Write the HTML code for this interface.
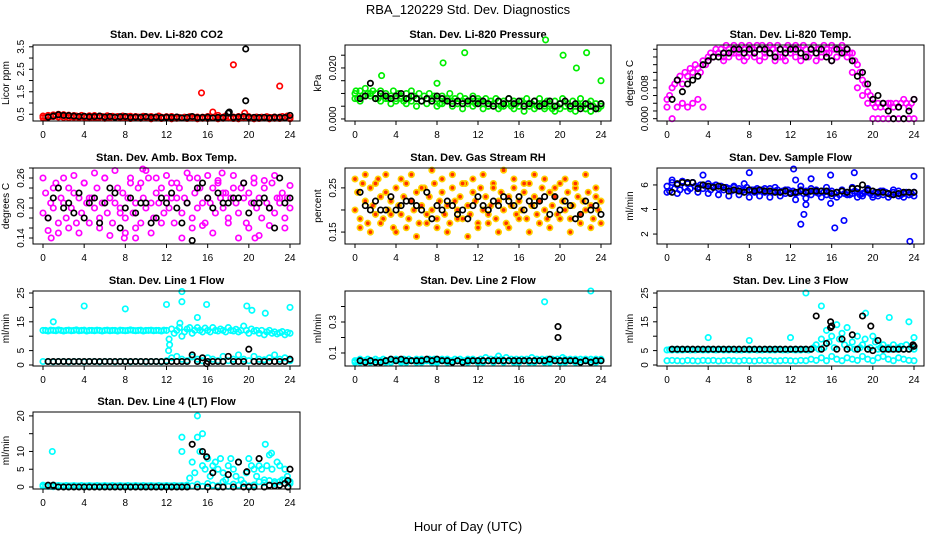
<!DOCTYPE html>
<html><head><meta charset="utf-8">
<style>
html,body{margin:0;padding:0;background:#fff;}
svg{display:block;font-family:"Liberation Sans",Arial,sans-serif;}
</style></head>
<body>
<svg id="chart" width="936" height="540" viewBox="0 0 936 540" xmlns="http://www.w3.org/2000/svg">
<rect width="936" height="540" fill="#fff"/>
<text x="468" y="14" font-size="13" text-anchor="middle">RBA_120229  Std. Dev. Diagnostics</text>
<text x="468" y="531" font-size="13" text-anchor="middle">Hour of Day (UTC)</text>
<g id="panels"></g>
</svg>
<script>
// ---- data (colored series A at 0..24 evenly, series B at 0..24 evenly, black at 0.5..23.75 evenly) ----
const co2A=[0.42,0.38,0.45,0.40,0.47,0.43,0.50,0.44,0.48,0.41,0.46,0.39,0.44,0.42,0.40,0.45,0.41,0.38,0.43,0.40,0.44,0.37,0.42,0.40,0.38,0.43,0.39,0.41,0.36,0.40,0.38,0.42,0.37,0.39,0.41,0.36,0.40,0.38,0.35,0.41,0.39,0.37,0.40,0.36,0.38,0.42,0.37,0.35,0.39,0.36,0.40,0.34,0.38,0.36,0.33,0.37,0.35,0.39,0.34,0.36,0.38,0.33,0.37,0.35,0.40,0.34,0.36,0.38,0.45,0.35,0.37,0.42,0.36,0.34,0.38,0.35,0.40,0.36,0.33,0.37,0.39,0.34,0.36,0.38,0.35,0.37,0.34,0.39,0.36,0.35,0.38,0.34,0.37,0.40,0.36,0.42,0.35];
const co2B=[0.34,0.36,0.40,0.38,0.36,0.35,0.37,0.34,0.36,0.33,0.35,0.37,0.32,0.34,0.36,0.33,0.35,0.31,0.34,0.32,0.36,0.30,0.33,0.31,0.35,0.30,0.32,0.34,0.31,0.33,0.30,0.32,0.31,0.34,0.30,0.32,0.33,0.31,0.30,0.34,0.32,0.30,0.31,0.33,0.30,0.32,0.31,0.33,0.30];
const co2K=[0.38,0.42,0.48,0.45,0.44,0.42,0.40,0.41,0.39,0.40,0.42,0.38,0.40,0.37,0.39,0.40,0.36,0.38,0.37,0.39,0.36,0.38,0.35,0.37,0.36,0.38,0.34,0.36,0.40,0.35,0.36,0.37,0.34,0.36,0.35,0.55,0.36,0.38,0.40,0.37,0.36,0.35,0.36,0.34,0.37,0.36,0.35,0.45];
const co2Out=[[15.4,1.45,"c"],[16.5,0.6,"c"],[18.5,2.7,"c"],[23,1.75,"c"],[19.7,3.4,"k"],[19.7,1.1,"k"],[18.1,0.6,"k"],[19.6,0.55,"c"]];

const presA=[0.010,0.008,0.011,0.009,0.012,0.010,0.009,0.011,0.010,0.008,0.011,0.009,0.010,0.008,0.009,0.011,0.008,0.010,0.009,0.007,0.010,0.008,0.011,0.009,0.008,0.010,0.007,0.009,0.008,0.010,0.007,0.009,0.008,0.006,0.009,0.007,0.008,0.010,0.007,0.008,0.006,0.009,0.007,0.008,0.006,0.007,0.009,0.006,0.008,0.007,0.006,0.008,0.005,0.007,0.006,0.008,0.007,0.005,0.007,0.006,0.008,0.005,0.007,0.006,0.005,0.007,0.006,0.008,0.005,0.006,0.007,0.005,0.008,0.006,0.005,0.007,0.006,0.004,0.007,0.005,0.006,0.008,0.005,0.006,0.004,0.007,0.005,0.006,0.008,0.005,0.004,0.006,0.007,0.005,0.006,0.004,0.006];
const presB=[0.008,0.007,0.009,0.010,0.008,0.007,0.008,0.006,0.007,0.008,0.006,0.007,0.005,0.007,0.006,0.008,0.005,0.006,0.007,0.005,0.006,0.004,0.006,0.005,0.007,0.004,0.005,0.006,0.004,0.005,0.006,0.004,0.005,0.003,0.005,0.004,0.006,0.004,0.005,0.003,0.004,0.005,0.004,0.003,0.005,0.004,0.003,0.004,0.005];
const presK=[0.008,0.009,0.014,0.008,0.010,0.009,0.008,0.009,0.010,0.008,0.009,0.008,0.007,0.008,0.007,0.009,0.008,0.007,0.006,0.007,0.006,0.007,0.008,0.006,0.007,0.006,0.005,0.007,0.006,0.008,0.006,0.007,0.005,0.006,0.007,0.005,0.006,0.007,0.005,0.006,0.007,0.005,0.006,0.004,0.006,0.005,0.004,0.006];
const presOut=[[0.1,0.011,"c"],[2.6,0.017,"c"],[8,0.014,"c"],[8.6,0.022,"c"],[10.7,0.026,"c"],[18.6,0.031,"c"],[20.3,0.025,"c"],[21.6,0.020,"c"],[22.6,0.026,"c"],[24,0.015,"c"],[23,0.003,"c"]];

const tempA=[0.005,0.006,0.008,0.009,0.010,0.011,0.009,0.012,0.011,0.013,0.012,0.014,0.013,0.012,0.015,0.014,0.016,0.017,0.016,0.018,0.017,0.018,0.016,0.019,0.018,0.017,0.019,0.018,0.017,0.019,0.018,0.016,0.019,0.018,0.017,0.019,0.018,0.019,0.017,0.018,0.019,0.018,0.017,0.019,0.018,0.016,0.018,0.019,0.017,0.018,0.019,0.018,0.017,0.019,0.018,0.016,0.018,0.019,0.017,0.018,0.016,0.019,0.018,0.017,0.019,0.018,0.016,0.018,0.019,0.017,0.018,0.017,0.017,0.015,0.014,0.012,0.010,0.009,0.007,0.006,0.004,0.003,0.004,0.003,0.004,0.003,0.004,0.004,0.003,0.004,0.003,0.004,0.005,0.004,0.003,0.004,0.005];
const tempB=[0.003,0.0,0.003,0.004,0.003,0.004,0.005,0.003,0.015,0.016,0.017,0.015,0.016,0.017,0.016,0.015,0.017,0.016,0.015,0.016,0.017,0.015,0.016,0.015,0.017,0.016,0.015,0.016,0.017,0.015,0.016,0.017,0.015,0.016,0.017,0.016,0.012,0.008,0.006,0.004,0.0,0.0,0.0,0.0,0.0,0.0,0.0,0.0,0.0];
const tempK=[0.005,0.010,0.007,0.009,0.010,0.011,0.014,0.015,0.016,0.016,0.017,0.017,0.018,0.018,0.017,0.018,0.017,0.018,0.018,0.017,0.016,0.018,0.017,0.018,0.018,0.017,0.016,0.018,0.017,0.018,0.016,0.015,0.018,0.017,0.018,0.015,0.011,0.012,0.009,0.005,0.006,0.004,0.002,0.0,0.003,0.0,0.002,0.005];
const tempOut=[];

const ambA=[0.19,0.23,0.18,0.21,0.20,0.25,0.17,0.22,0.21,0.18,0.24,0.20,0.23,0.17,0.22,0.19,0.25,0.21,0.17,0.22,0.20,0.24,0.18,0.21,0.26,0.19,0.22,0.17,0.21,0.24,0.20,0.23,0.18,0.22,0.25,0.19,0.21,0.24,0.17,0.22,0.20,0.26,0.21,0.18,0.23,0.21,0.24,0.19,0.22,0.20,0.25,0.17,0.22,0.24,0.19,0.22,0.21,0.26,0.18,0.23,0.20,0.24,0.21,0.17,0.22,0.21,0.24,0.19,0.25,0.22,0.20,0.23,0.18,0.22,0.24,0.21,0.19,0.24,0.22,0.17,0.23,0.21,0.25,0.20,0.22,0.18,0.24,0.21,0.20,0.25,0.19,0.22,0.21,0.23,0.18,0.22,0.20];
const ambB=[0.26,0.155,0.24,0.15,0.26,0.16,0.265,0.15,0.25,0.22,0.27,0.16,0.26,0.145,0.275,0.19,0.15,0.26,0.16,0.25,0.275,0.15,0.26,0.17,0.265,0.22,0.25,0.14,0.27,0.16,0.26,0.165,0.265,0.15,0.255,0.23,0.17,0.265,0.14,0.25,0.16,0.26,0.145,0.255,0.165,0.265,0.22,0.16,0.245];
const ambK=[0.18,0.22,0.24,0.20,0.21,0.19,0.23,0.18,0.21,0.22,0.17,0.21,0.24,0.23,0.16,0.20,0.22,0.19,0.21,0.21,0.17,0.18,0.22,0.21,0.23,0.20,0.17,0.21,0.135,0.24,0.25,0.22,0.20,0.23,0.21,0.21,0.22,0.22,0.25,0.19,0.21,0.21,0.22,0.20,0.16,0.26,0.21,0.22];
const ambOut=[[9.7,0.278,"c"],[17.4,0.27,"c"],[0.8,0.14,"c"],[7.9,0.14,"c"],[9,0.14,"c"],[20.6,0.14,"c"]];

const rhA=[0.20,0.24,0.18,0.26,0.22,0.17,0.25,0.21,0.19,0.27,0.23,0.18,0.24,0.20,0.22,0.16,0.25,0.21,0.19,0.23,0.26,0.18,0.22,0.20,0.24,0.17,0.21,0.25,0.19,0.23,0.20,0.26,0.18,0.22,0.24,0.19,0.21,0.17,0.25,0.22,0.20,0.23,0.18,0.26,0.21,0.19,0.24,0.22,0.17,0.25,0.20,0.23,0.19,0.21,0.26,0.18,0.22,0.24,0.20,0.17,0.23,0.21,0.25,0.19,0.22,0.20,0.24,0.18,0.26,0.21,0.23,0.19,0.22,0.25,0.20,0.18,0.24,0.21,0.23,0.19,0.26,0.22,0.20,0.24,0.18,0.21,0.25,0.23,0.19,0.22,0.20,0.24,0.21,0.18,0.23,0.20,0.22];
const rhB=[0.27,0.16,0.28,0.15,0.26,0.17,0.28,0.19,0.15,0.27,0.16,0.28,0.14,0.25,0.17,0.29,0.16,0.27,0.15,0.28,0.18,0.26,0.14,0.27,0.16,0.28,0.17,0.25,0.15,0.29,0.16,0.27,0.18,0.26,0.15,0.28,0.17,0.27,0.16,0.25,0.18,0.27,0.15,0.26,0.17,0.28,0.16,0.25,0.17];
const rhK=[0.24,0.21,0.20,0.22,0.20,0.20,0.23,0.20,0.21,0.22,0.22,0.21,0.20,0.24,0.18,0.21,0.20,0.22,0.21,0.19,0.20,0.18,0.21,0.23,0.21,0.20,0.22,0.21,0.23,0.22,0.21,0.23,0.20,0.22,0.21,0.22,0.23,0.19,0.23,0.20,0.22,0.21,0.18,0.19,0.22,0.20,0.21,0.19];
const rhOut=[];

const flowA=[5.9,5.5,6.2,5.7,6.0,5.6,6.3,5.8,6.1,5.7,6.2,5.9,5.8,6.0,5.7,5.9,6.1,5.6,5.8,6.0,5.7,5.9,5.6,5.8,5.7,5.5,5.8,5.6,5.7,5.5,5.6,5.8,5.5,5.6,5.4,5.7,5.5,5.6,5.4,5.5,5.7,5.4,5.5,5.6,5.4,5.5,5.3,5.6,5.4,5.5,5.3,5.4,5.6,5.3,5.5,5.4,5.2,5.5,5.4,5.3,5.5,5.4,5.2,5.4,5.5,5.3,5.4,5.2,5.5,5.3,5.4,5.2,5.3,5.5,5.4,5.2,5.3,5.4,5.5,5.3,5.2,5.4,5.3,5.5,5.2,5.4,5.3,5.2,5.4,5.3,5.5,5.2,5.3,5.4,5.2,5.3,5.4];
const flowB=[5.4,6.4,5.3,6.3,5.5,6.2,5.4,6.0,5.3,5.9,5.2,5.8,5.1,5.9,5.2,6.1,5.0,5.6,5.1,5.7,5.0,5.8,5.1,5.6,5.3,4.8,5.9,4.9,5.7,5.6,5.0,5.8,5.1,5.0,5.6,5.2,5.8,5.0,5.1,5.7,5.0,5.1,5.5,5.0,5.6,5.1,5.0,5.2,5.1];
const flowK=[5.4,6.1,6.2,6.2,6.2,5.7,6.0,5.9,5.8,5.9,5.8,5.5,5.6,5.5,5.4,5.6,5.5,5.6,5.5,5.5,5.4,5.4,5.5,5.3,5.4,5.5,5.4,5.5,5.5,5.5,5.5,5.3,5.4,5.5,5.4,5.7,5.7,6.0,5.6,5.5,5.4,5.4,5.3,5.2,5.3,5.4,5.4,5.4];
const flowOut=[[3.5,6.8,"c"],[8,7.0,"c"],[12.3,7.3,"c"],[13,2.8,"c"],[13.3,3.6,"c"],[13.5,4.4,"c"],[15.9,6.8,"c"],[15.9,4.5,"c"],[16.3,2.5,"c"],[17.2,3.1,"c"],[18.2,7.0,"c"],[23.6,1.4,"c"],[24,6.7,"c"],[12.5,6.4,"c"],[14,6.5,"c"]];

const l1A=[12,12,11.8,12.1,12,11.9,12.2,12,11.8,12,12.1,11.9,12,12.2,11.9,12,12.1,11.8,12,12,11.9,12.1,12,11.8,12,12.1,11.9,12,12,11.8,12.1,12,11.9,12,12.2,12,11.9,12,12.1,11.8,12,12,12.1,11.9,12,12,11.8,12.1,12,9,12.5,11,12,13,10,11.5,12.5,13,11,12,13,12,11.5,12.8,12,11.5,13,12,11.8,12.5,12,11.5,13,12,11.8,12.4,11.5,12,13.5,12,11,12.5,11.8,12,11,12,10.5,11.5,12,11,11.5,10.8,11.2,11.6,10.5,11.3,11];
const l1B=[1.2,1.2,1.1,1.2,1.2,1.1,1.2,1.2,1.1,1.2,1.2,1.1,1.2,1.2,1.1,1.2,1.2,1.1,1.2,1.2,1.1,1.2,1.2,1.1,1.5,2.5,3,2,1.5,2.8,2,1.5,2.5,2,1.5,3,1.5,2,3.5,2,1.5,3,2,1.8,2.5,3.5,2,2.5,1.5];
const l1K=[1.2,1.2,1.2,1.2,1.2,1.2,1.2,1.2,1.2,1.2,1.2,1.2,1.2,1.2,1.2,1.2,1.2,1.2,1.2,1.2,1.2,1.2,1.2,1.2,1.2,1.2,1.2,1.2,3.5,1.2,2.5,1.2,1.2,1.2,1.2,3,1.2,1.2,1.2,5.5,1.2,1.2,1.2,1.2,1.2,1.2,1.2,2];
const l1Out=[[1,15,"c"],[4,20.5,"c"],[8,19.5,"c"],[12,21,"c"],[12.2,5,"c"],[12.3,7,"c"],[13.5,25.5,"c"],[13.5,22,"c"],[13.3,14.5,"c"],[15,16.5,"c"],[15.9,21,"c"],[19.8,20.5,"c"],[20.3,19,"c"],[24,20,"c"],[21.6,18,"c"],[15.9,0.5,"k"]];

const l2A=[0.05,0.05,0.06,0.05,0.05,0.06,0.05,0.05,0.06,0.05,0.05,0.06,0.05,0.05,0.06,0.05,0.06,0.05,0.05,0.06,0.05,0.06,0.05,0.05,0.06,0.05,0.06,0.05,0.05,0.06,0.05,0.06,0.05,0.05,0.06,0.05,0.06,0.05,0.05,0.06,0.05,0.06,0.05,0.05,0.06,0.05,0.06,0.05,0.05,0.06,0.05,0.07,0.05,0.06,0.05,0.06,0.05,0.06,0.05,0.07,0.05,0.06,0.05,0.06,0.05,0.06,0.05,0.06,0.05,0.07,0.05,0.06,0.05,0.06,0.05,0.06,0.05,0.06,0.05,0.06,0.05,0.07,0.06,0.05,0.06,0.05,0.06,0.05,0.06,0.05,0.06,0.05,0.06,0.05,0.06,0.05,0.06];
const l2B=[0.04,0.04,0.05,0.04,0.04,0.05,0.04,0.04,0.05,0.04,0.04,0.05,0.04,0.04,0.05,0.04,0.04,0.05,0.04,0.04,0.05,0.04,0.04,0.05,0.04,0.04,0.05,0.04,0.08,0.04,0.05,0.04,0.04,0.05,0.04,0.04,0.05,0.04,0.04,0.05,0.04,0.04,0.05,0.04,0.04,0.05,0.04,0.04,0.05];
const l2K=[0.05,0.04,0.05,0.04,0.04,0.05,0.06,0.05,0.06,0.05,0.05,0.05,0.05,0.06,0.05,0.06,0.05,0.05,0.04,0.05,0.04,0.05,0.05,0.05,0.05,0.05,0.05,0.05,0.05,0.05,0.05,0.05,0.05,0.05,0.05,0.05,0.05,0.06,0.05,0.05,0.05,0.05,0.05,0.04,0.05,0.04,0.05,0.05];
const l2Out=[[18.5,0.43,"c"],[23,0.50,"c"],[19.8,0.27,"k"],[19.8,0.20,"k"]];

const l3A=[5.2,5.3,5.2,5.4,5.2,5.3,5.2,5.3,5.4,5.2,5.3,5.2,5.4,5.3,5.2,5.3,5.2,5.4,5.3,5.2,5.3,5.4,5.2,5.3,5.2,5.4,5.3,5.2,5.3,5.2,5.4,5.3,5.2,5.3,5.4,5.2,5.3,5.2,5.4,5.3,5.2,5.3,5.2,5.4,5.3,5.2,5.3,5.2,5.4,5.3,5.2,5.3,5.2,5.4,5.3,5.2,5.5,6,7,5.5,9,6,12,8,10,6,14,9,11,7,13,6,8,5.5,10,6,7,9,5.5,6,10,8,5.5,6,7,5.5,6,5.5,7,5.5,6,6.5,5.5,7,5.5,6,5.5];
const l3B=[1.5,1.6,1.5,1.4,1.6,1.5,1.4,1.6,1.5,1.6,1.4,1.5,1.6,1.5,1.4,1.6,1.5,1.4,1.6,1.5,1.6,1.4,1.5,1.6,1.5,1.4,1.6,1.5,2,1.6,2.5,1.5,3,2,1.5,2.5,2,1.6,3,2,1.5,2.5,3,2,1.5,2.5,2,1.6,1.5];
const l3K=[5.5,5.5,5.5,5.5,5.5,5.5,5.5,5.5,5.5,5.5,5.5,5.5,5.5,5.5,5.5,5.5,5.5,5.5,5.5,5.5,5.5,5.5,5.5,5.5,5.5,5.5,5.5,5.5,17,5.5,7.5,13.5,5.5,9,5.5,10.5,5.5,17,5.5,5,8.5,5.5,5.5,5.5,5.5,5.5,5.5,6.5];
const l3Out=[[4,9.5,"c"],[8,8.5,"c"],[12,9.5,"c"],[13.5,25,"c"],[15,20.5,"c"],[15.9,15,"k"],[15.9,13,"k"],[19.3,18,"c"],[21.6,16.5,"c"],[23.5,15,"c"],[24,9.5,"c"],[19.8,13.5,"k"],[23.9,7,"k"]];

const l4A=[0.5,0.3,0.4,0.3,0.5,0.3,0.4,0.3,0.3,0.4,0.3,0.3,0.4,0.3,0.3,0.4,0.3,0.3,0.4,0.3,0.3,0.4,0.3,0.3,0.4,0.3,0.3,0.4,0.3,0.3,0.4,0.3,0.3,0.4,0.3,0.3,0.4,0.3,0.3,0.4,0.3,0.3,0.4,0.3,0.3,0.4,0.3,0.3,0.4,0.3,0.3,0.4,0.3,0.3,0.4,0.3,0.5,2.5,7,4,14,10,6,5,8,3,6,7,5,8,4,2,6,8,5,3,7,2,1,4,8,6,5,3,6,5,2,6,9,5,1.5,7,6,2,5,3,1];
const l4B=[0.2,0.2,0.1,0.2,0.2,0.1,0.2,0.2,0.1,0.2,0.2,0.1,0.2,0.2,0.1,0.2,0.2,0.1,0.2,0.2,0.1,0.2,0.2,0.1,0.2,0.2,0.1,0.2,0.5,0.3,0.8,0.2,1,0.5,0.3,1.5,0.2,0.8,0.5,1,0.3,0.6,1.5,1.2,1.8,1,1.5,2,1.5];
const l4K=[0.5,0.5,0,0,0,0,0,0,0,0,0,0,0,0,0,0,0,0,0,0,0,0,0,0,0,0,0,0,12,0,10,0,4,0,0,3.5,0,7,0,0,0,8,0,0.5,0.3,0.5,1,5];
const l4Out=[[0.9,10,"c"],[15,20,"c"],[15.5,15,"c"],[13.5,10,"c"],[13.5,14,"c"],[15.9,8.5,"k"],[19.8,4.3,"k"],[21.6,12,"c"],[22.2,9.5,"c"],[23.8,1.8,"k"],[23.8,0,"k"]];

// ---- layout ----
const cols=[{x0:43,x1:290},{x0:355,x1:601},{x0:667,x1:914}];
const rows=[{t:45,b:121},{t:168,b:244},{t:291,b:366},{t:412,b:489}];
const xTicks=[0,4,8,12,16,20,24];
const panels=[
 {name:"co2",title:"Stan. Dev. Li-820 CO2",c:0,r:0,yl:"Licor ppm",ymin:0.2,ymax:3.58,ticks:[0.5,1,1.5,2,2.5,3,3.5],labs:["0.5","","1.5","","2.5","","3.5"],col:"#ff0000",A:co2A,B:co2B,K:co2K,O:co2Out},
 {name:"pressure",title:"Stan. Dev. Li-820 Pressure",c:1,r:0,yl:"kPa",ymin:-0.0008,ymax:0.029,ticks:[0,0.005,0.01,0.015,0.02,0.025],labs:["0.000","","","","0.020",""],col:"#00ee00",A:presA,B:presB,K:presK,O:presOut},
 {name:"licor-temp",title:"Stan. Dev. Li-820 Temp.",c:2,r:0,yl:"degrees C",ymin:-0.0006,ymax:0.0191,ticks:[0,0.002,0.004,0.006,0.008,0.010,0.012,0.014,0.016,0.018],labs:["0.000","","","","0.008","","","","",""],col:"#ff00ff",A:tempA,B:tempB,K:tempK,O:tempOut},
 {name:"amb-temp",title:"Stan. Dev. Amb. Box Temp.",c:0,r:1,yl:"degrees C",ymin:0.128,ymax:0.28,ticks:[0.14,0.16,0.18,0.20,0.22,0.24,0.26,0.28],labs:["0.14","","","0.20","","","0.26",""],col:"#ff00ff",A:ambA,B:ambB,K:ambK,O:ambOut},
 {name:"rh",title:"Stan. Dev. Gas Stream RH",c:1,r:1,yl:"percent",ymin:0.123,ymax:0.295,ticks:[0.15,0.20,0.25],labs:["0.15","","0.25"],col:"#ffd000",fill:"#ff3000",A:rhA,B:rhB,K:rhK,O:rhOut},
 {name:"sample-flow",title:"Stan. Dev. Sample Flow",c:2,r:1,yl:"ml/min",ymin:1.19,ymax:7.38,ticks:[2,4,6],labs:["2","4","6"],col:"#0000ff",A:flowA,B:flowB,K:flowK,O:flowOut},
 {name:"line1",title:"Stan. Dev. Line 1 Flow",c:0,r:2,yl:"ml/min",ymin:-0.35,ymax:25.7,ticks:[0,5,10,15,20,25],labs:["0","5","","15","","25"],col:"#00ffff",A:l1A,B:l1B,K:l1K,O:l1Out},
 {name:"line2",title:"Stan. Dev. Line 2 Flow",c:1,r:2,yl:"ml/min",ymin:0.016,ymax:0.5,ticks:[0.1,0.2,0.3,0.4],labs:["0.1","","0.3",""],col:"#00ffff",A:l2A,B:l2B,K:l2K,O:l2Out},
 {name:"line3",title:"Stan. Dev. Line 3 Flow",c:2,r:2,yl:"ml/min",ymin:-0.35,ymax:25.7,ticks:[0,5,10,15,20,25],labs:["0","5","","15","","25"],col:"#00ffff",A:l3A,B:l3B,K:l3K,O:l3Out},
 {name:"line4",title:"Stan. Dev. Line 4 (LT) Flow",c:0,r:3,yl:"ml/min",ymin:-0.56,ymax:21.1,ticks:[0,5,10,15,20],labs:["0","5","10","","20"],col:"#00ffff",A:l4A,B:l4B,K:l4K,O:l4Out}
];
const NS="http://www.w3.org/2000/svg";
const root=document.getElementById("panels");
function mk(tag,attrs,parent){const e=document.createElementNS(NS,tag);for(const k in attrs)e.setAttribute(k,attrs[k]);parent.appendChild(e);return e;}
function pt(g,x,y,stroke,fill){
 const c=mk("circle",{cx:x.toFixed(1),cy:y.toFixed(1),r:2.7,fill:fill||"none",stroke:stroke,"stroke-width":1.7},g);
 
 
}
panels.forEach(p=>{
 const C=cols[p.c],R=rows[p.r];
 const xs=h=>C.x0+(C.x1-C.x0)*h/24;
 const ys=v=>R.b-(R.b-R.t)*(v-p.ymin)/(p.ymax-p.ymin);
 const bl=C.x0-10,br=C.x1+10;
 const g=mk("g",{},root);
 
 
 const t=mk("text",{x:(bl+br)/2,y:R.t-7,"font-size":11,"font-weight":"bold","text-anchor":"middle"},g);
 t.textContent=p.title;
 
 
 const dg=mk("g",{},g);
 
 
 p.A.forEach((v,i)=>pt(dg,xs(24*i/(p.A.length-1)),ys(v),p.col,p.fill));
 p.B.forEach((v,i)=>pt(dg,xs(24*i/(p.B.length-1)),ys(v),p.col,p.fill));
 p.O.forEach(o=>{if(o[2]==="c")pt(dg,xs(o[0]),ys(o[1]),p.col,p.fill);});
 p.K.forEach((v,i)=>pt(dg,xs(0.5+23.5*i/(p.K.length-1)),ys(v),"#000"));
 p.O.forEach(o=>{if(o[2]==="k")pt(dg,xs(o[0]),ys(o[1]),"#000");});
 const bx=mk("rect",{x:bl,y:R.t,width:br-bl,height:R.b-R.t,fill:"none",stroke:"#000","stroke-width":1},g);
 
 
 const xa=mk("g",{},g);
 
 
 xTicks.forEach(h=>{
  mk("line",{x1:xs(h),x2:xs(h),y1:R.b,y2:R.b+4,stroke:"#000"},xa);
  const tl=mk("text",{x:xs(h),y:R.b+17,"font-size":10,"text-anchor":"middle"},xa);
  tl.textContent=h;
 });
 const ya=mk("g",{},g);
 
 
 p.ticks.forEach((v,i)=>{
  const y=ys(v);
  if(y<R.t-1||y>R.b+1)return;
  mk("line",{x1:bl-4,x2:bl,y1:y,y2:y,stroke:"#000"},ya);
  if(p.labs[i]){const tl=mk("text",{x:bl-9,y:y,"font-size":10,"text-anchor":"middle",transform:`rotate(-90 ${bl-9} ${y})`},ya);tl.textContent=p.labs[i];}
 });
 const yt=mk("text",{x:bl-24,y:(R.t+R.b)/2,"font-size":10,"text-anchor":"middle",transform:`rotate(-90 ${bl-24} ${(R.t+R.b)/2})`},g);
 yt.textContent=p.yl;
 
 
});
</script>
</body></html>
